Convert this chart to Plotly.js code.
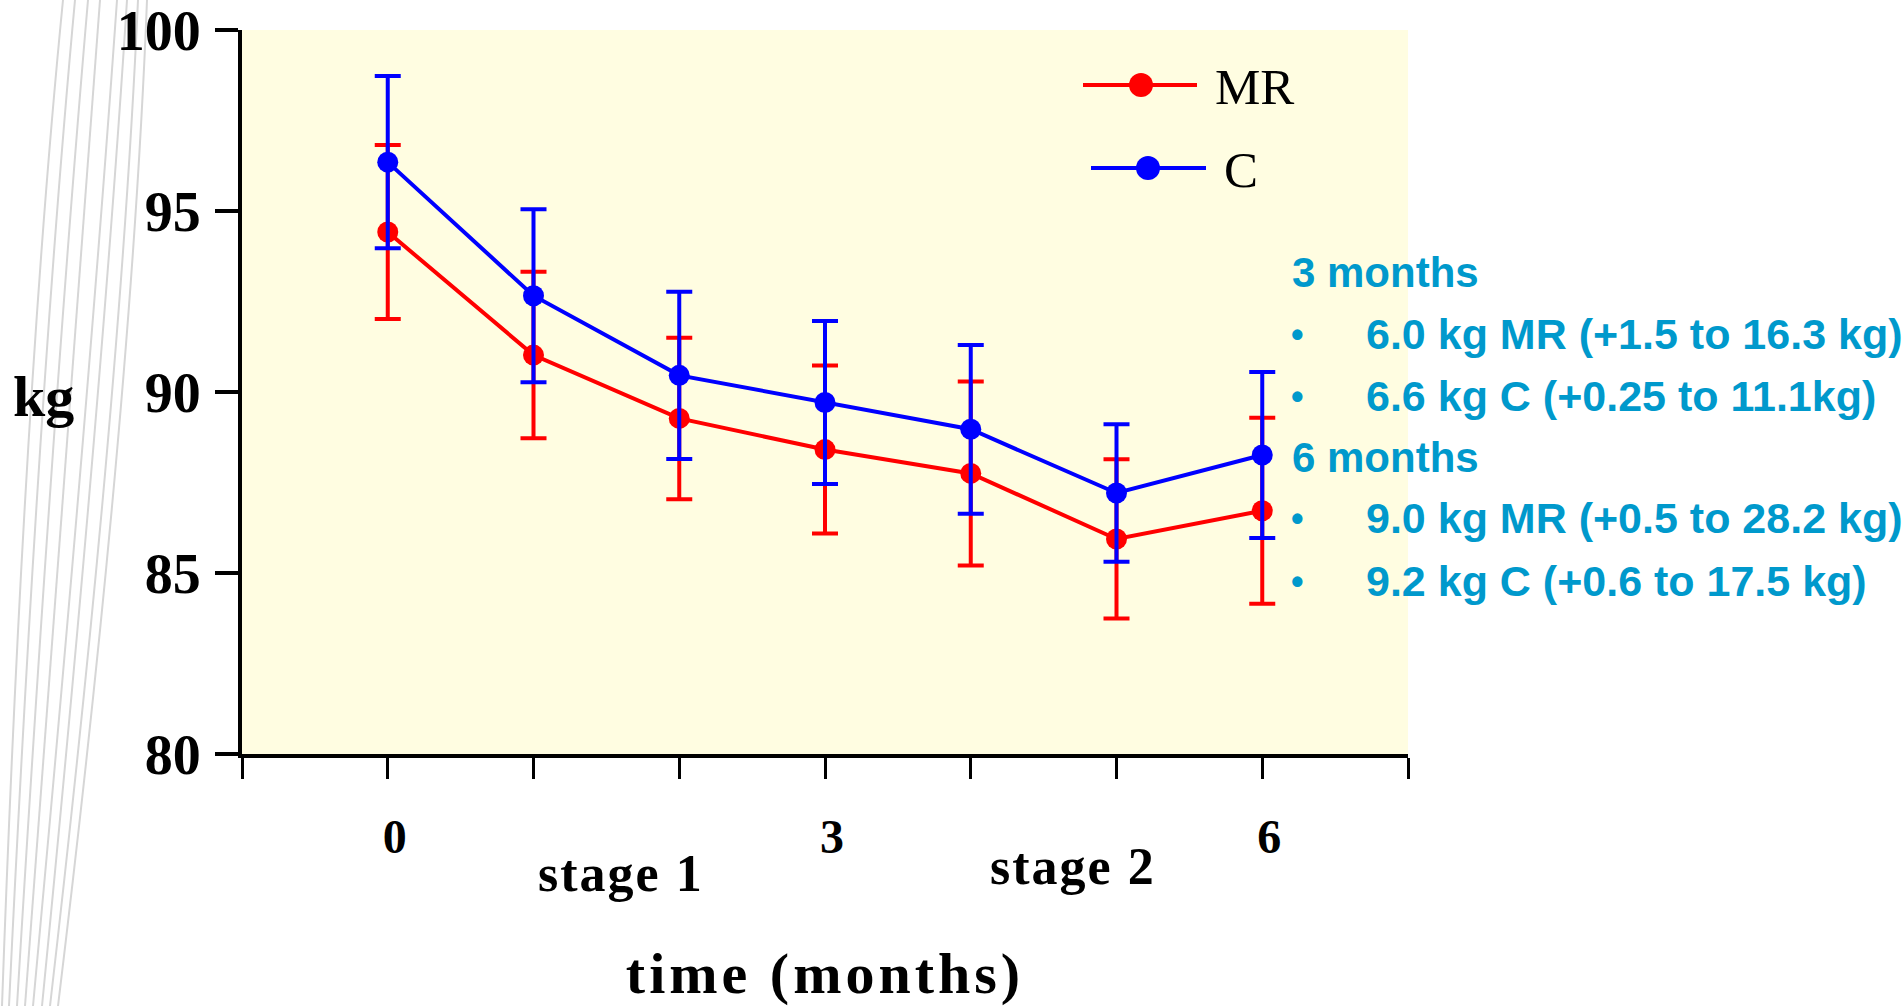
<!DOCTYPE html>
<html>
<head>
<meta charset="utf-8">
<script src="https://cdn.plot.ly/plotly-3.0.1.min.js"></script>
<style>
  html, body { margin: 0; padding: 0; background: #ffffff; }
  #chart { width: 1903px; height: 1006px; }
  /* spaced-out lettering for the axis caption and the stage labels */
  .xtitle { letter-spacing: 4px; }
  .annotation[data-index="0"] text,
  .annotation[data-index="1"] text { letter-spacing: 2px; }
</style>
</head>
<body>
<div id="chart"></div>
<script>
// Body weight (kg) over time (months) for the two groups
const months = [0, 1, 2, 3, 4, 5, 6];
const mrWeight = [94.42, 91.02, 89.27, 88.41, 87.75, 85.94, 86.72];
const mrError  = [2.40, 2.30, 2.23, 2.32, 2.54, 2.20, 2.57];
const cWeight  = [96.35, 92.66, 90.46, 89.71, 88.97, 87.21, 88.26];
const cError   = [2.38, 2.39, 2.31, 2.25, 2.33, 1.90, 2.29];

const xTickVals = [-1, 0, 1, 2, 3, 4, 5, 6, 7];
const xTickText = ['', '0', '', '', '3', '', '', '6', ''];
const yTickVals = [80, 85, 90, 95, 100];

const stageLabels = ['stage 1', 'stage 2'];
const stageX = [1.6, 4.7];

const seriesNames = ['MR', 'C'];
const seriesColors = ['#FF0000', '#0000FF'];

const notesHeaders = ['3 months', '6 months'];
const notesItems = [
  ['6.0 kg MR (+1.5 to 16.3 kg)', '6.6 kg C (+0.25 to 11.1kg)'],
  ['9.0 kg MR (+0.5 to 28.2 kg)', '9.2 kg C (+0.6 to 17.5 kg)']
];

// plot area geometry (pixels)
const W = 1903, H = 1006;
const M = { l: 242, r: 495, t: 30, b: 252 };
const PW = W - M.l - M.r, PH = H - M.t - M.b;
const px = x => (x - M.l) / PW;
const py = y => 1 - (y - M.t) / PH;

const serif = 'Liberation Serif, Times New Roman, serif';
const sans = 'Liberation Sans, Arial, sans-serif';
const cyan = '#0099CC';

function series(name, y, err, color) {
  return {
    type: 'scatter', mode: 'lines+markers', name: name,
    x: months, y: y,
    line: { color: color, width: 4 },
    marker: { color: color, size: 21 },
    error_y: { type: 'data', array: err, visible: true, color: color, thickness: 4, width: 13 },
    showlegend: false, hoverinfo: 'x+y'
  };
}

const traces = [
  series(seriesNames[0], mrWeight, mrError, seriesColors[0]),
  series(seriesNames[1], cWeight, cError, seriesColors[1])
];

const annotations = [];
stageLabels.forEach((t, i) => annotations.push({
  text: t, xref: 'x', yref: 'paper', x: stageX[i], y: py(i === 0 ? 873 : 866),
  xanchor: 'center', yanchor: 'middle', showarrow: false,
  font: { family: serif, size: 52, color: '#000000', weight: 'bold' }
}));

annotations.push({
  text: 'kg', xref: 'paper', yref: 'paper', x: px(43), y: py(396),
  xanchor: 'center', yanchor: 'middle', showarrow: false,
  font: { family: serif, size: 58, color: '#000000', weight: 'bold' }
});

// legend rows
const legendRows = [
  { x0: 1083, x1: 1197, y: 85, mx: 1141, tx: 1213, ty: 87 },
  { x0: 1091, x1: 1206, y: 168, mx: 1148, tx: 1222, ty: 170 }
];
const shapes = [];
legendRows.forEach((r, i) => {
  shapes.push({
    type: 'line', xref: 'paper', yref: 'paper',
    x0: px(r.x0), x1: px(r.x1), y0: py(r.y), y1: py(r.y),
    line: { color: seriesColors[i], width: 4 }
  });
  shapes.push({
    type: 'circle', xref: 'paper', yref: 'paper',
    xsizemode: 'pixel', ysizemode: 'pixel',
    xanchor: px(r.mx), yanchor: py(r.y),
    x0: -12, x1: 12, y0: -12, y1: 12,
    fillcolor: seriesColors[i], line: { width: 0 }
  });
  annotations.push({
    text: seriesNames[i], xref: 'paper', yref: 'paper', x: px(r.tx), y: py(r.ty),
    xanchor: 'left', yanchor: 'middle', showarrow: false,
    font: { family: serif, size: 51, color: '#000000' }
  });
});

// summary notes on the right
const noteRowY = [272, 334, 396, 457.5, 518, 581];
let row = 0;
notesHeaders.forEach((h, g) => {
  annotations.push({
    text: h, xref: 'paper', yref: 'paper', x: px(1290), y: py(noteRowY[row++]),
    xanchor: 'left', yanchor: 'middle', showarrow: false,
    font: { family: sans, size: 42, color: cyan, weight: 'bold' }
  });
  notesItems[g].forEach(t => {
    const yy = py(noteRowY[row++]);
    annotations.push({
      text: '•', xref: 'paper', yref: 'paper', x: px(1297), y: yy,
      xanchor: 'center', yanchor: 'middle', showarrow: false,
      font: { family: sans, size: 36, color: cyan, weight: 'bold' }
    });
    annotations.push({
      text: t, xref: 'paper', yref: 'paper', x: px(1364), y: yy,
      xanchor: 'left', yanchor: 'middle', showarrow: false,
      font: { family: sans, size: 43, color: cyan, weight: 'bold' }
    });
  });
});

// faint slanted background strokes in the left margin
const strokes = [
  [63, 28, 2], [75, 40, 9], [88, 53, 17], [100, 67, 25],
  [117, 82, 33], [127, 93, 42], [138, 107, 50], [147, 117, 58]
];
strokes.forEach(s => {
  shapes.push({
    type: 'path', xref: 'paper', yref: 'paper', layer: 'below',
    path: `M ${px(s[0])},${py(0)} Q ${px(2 * s[1] - (s[0] + s[2]) / 2)},${py(400)} ${px(s[2])},${py(1006)}`,
    line: { color: '#d6d6d6', width: 2 }
  });
});

const layout = {
  width: W, height: H,
  margin: M,
  paper_bgcolor: '#ffffff',
  plot_bgcolor: '#FFFDE1',
  showlegend: false,
  xaxis: {
    range: [-1, 7], tickmode: 'array', tickvals: xTickVals, ticktext: xTickText,
    showgrid: false, zeroline: false, showline: true, linecolor: '#000000', linewidth: 4,
    ticks: 'outside', ticklen: 21, tickwidth: 3, tickcolor: '#000000',
    ticklabelstandoff: 16, ticklabelshift: 7, ticklabeloverflow: 'allow',
    tickfont: { family: serif, size: 48, color: '#000000', weight: 'bold' },
    title: { text: 'time (months)', standoff: 94,
             font: { family: serif, size: 58, color: '#000000', weight: 'bold' } },
    fixedrange: true
  },
  yaxis: {
    range: [80, 100], tickmode: 'array', tickvals: yTickVals,
    showgrid: false, zeroline: false, showline: true, linecolor: '#000000', linewidth: 4,
    ticks: 'outside', ticklen: 23, tickwidth: 4, tickcolor: '#000000',
    ticklabelstandoff: 3, ticklabeloverflow: 'allow',
    tickfont: { family: serif, size: 56, color: '#000000', weight: 'bold' },
    fixedrange: true
  },
  shapes: shapes,
  annotations: annotations
};

Plotly.newPlot('chart', traces, layout, { displayModeBar: false, staticPlot: true });
</script>
</body>
</html>
